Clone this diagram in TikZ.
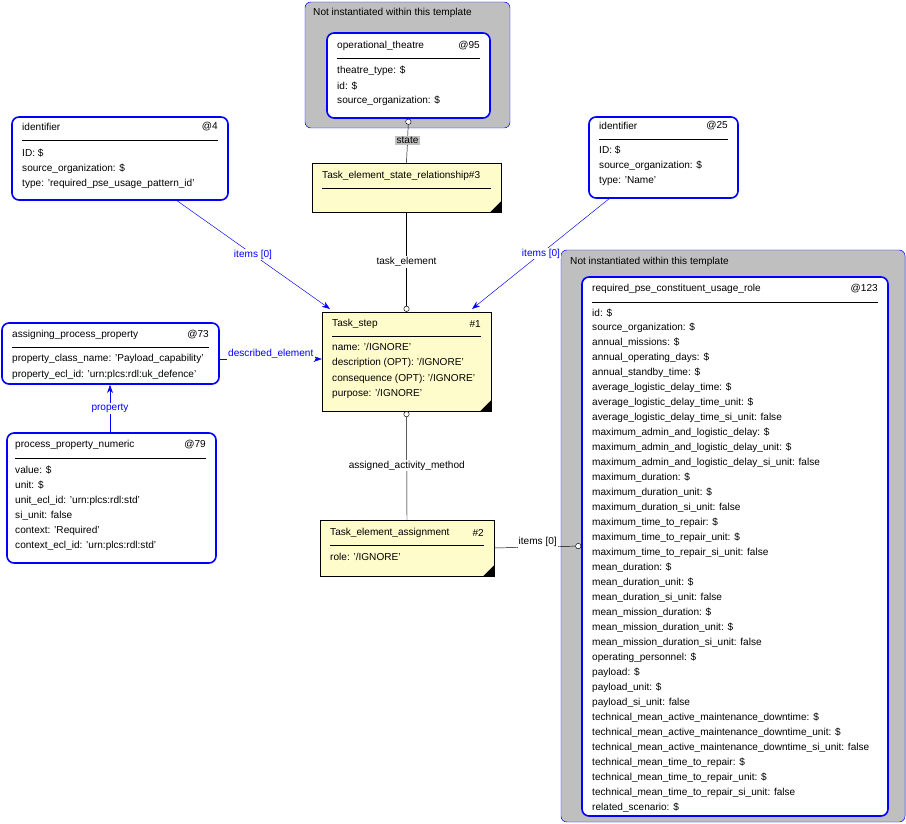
\documentclass[tikz,border=0pt]{standalone}
\usepackage{fontspec}
\setmainfont{Liberation Sans}
\usetikzlibrary{arrows.meta, positioning, calc, fit}

\begin{document}
\begin{tikzpicture}[
        x=0.03cm, y=-0.03cm,
        every node/.style={font=\fontsize{8.6}{10}\selectfont, inner sep=0pt},
        grp/.style={draw=blue, fill=black!25, rounded corners=5pt, inner sep=0pt},
        ent/.style={draw=blue, line width=1.4pt, fill=white, rounded corners=6pt, inner sep=0pt},
        rel/.style={draw=black, fill=yellow!20, inner sep=0pt},
        txt/.style={anchor=west},
        lbl/.style={fill=white, inner sep=1pt},
        link/.style={-{Stealth[length=7pt,width=5pt]}, blue},
        ring/.style={{Circle[open,fill=white,length=5pt]}-}
    ]
    \useasboundingbox (0,0) rectangle (906,824);

    % corner folds for the yellow boxes
    \newcommand{\fold}[1]{\fill (#1.south east) -- ++(-11,0) -- ++(11,-11) -- cycle;}
    \newcommand{\hdr}[5]{% name, x1, x2, y, title / id
        \node[txt] at (#2+10,#4) {#5};
        \draw (#2+10,#4+12) -- (#3-10,#4+12);}

    % Top container
    \node[grp, fit={(305,2)(510,128)}] (topgrp) {};
    \node[txt] at (313,13) {Not instantiated within this template};
    \node[ent, fit={(327,33)(490,118)}] (theatre) {};
    \node[txt] at (337,46) {operational\_theatre};
    \node[anchor=east] at (480,46) {@95};
    \draw (337,58) -- (480,58);
    \foreach \t [count=\i from 0] in {theatre\_type: \$, id: \$, source\_organization: \$}
        \node[txt] at (337,71+15*\i) {\t};

    % Task_element_state_relationship
    \node[rel, fit={(312,163)(501,212)}] (tesr) {};
    \fold{tesr}
    \node[txt] at (322,176) {Task\_element\_state\_relationship\#3};
    \draw (322,188) -- (491,188);

    % identifier @4
    \node[ent, fit={(12,117)(228,200)}] (ident4) {};
    \node[txt] at (22,127) {identifier};
    \node[anchor=east] at (218,127) {@4};
    \draw (22,140) -- (218,140);
    \foreach \t [count=\i from 0] in {ID: \$, source\_organization: \$, type: 'required\_pse\_usage\_pattern\_id'}
        \node[txt] at (22,153+15.5*\i) {\t};

    % identifier @25
    \node[ent, fit={(589,117)(738,198)}] (ident25) {};
    \node[txt] at (599,126) {identifier};
    \node[anchor=east] at (728,126) {@25};
    \draw (599,139) -- (728,139);
    \foreach \t [count=\i from 0] in {ID: \$, source\_organization: \$, type: 'Name'}
        \node[txt] at (599,150+15.5*\i) {\t};

    % Task_step
    \node[rel, fit={(322,312)(491,411)}] (step) {};
    \fold{step}
    \node[txt] at (332,324) {Task\_step};
    \node[anchor=east] at (481,324) {\#1};
    \draw (332,336) -- (481,336);
    \foreach \t [count=\i from 0] in {name: '/IGNORE', description (OPT): '/IGNORE', consequence (OPT): '/IGNORE', purpose: '/IGNORE'}
        \node[txt] at (332,347+15.7*\i) {\t};

    % assigning_process_property
    \node[ent, fit={(2,323)(219,384)}] (app) {};
    \node[txt] at (12,335) {assigning\_process\_property};
    \node[anchor=east] at (209,335) {@73};
    \draw (12,347) -- (209,347);
    \foreach \t [count=\i from 0] in {property\_class\_name: 'Payload\_capability', property\_ecl\_id: 'urn:plcs:rdl:uk\_defence'}
        \node[txt] at (12,359+16*\i) {\t};

    % process_property_numeric
    \node[ent, fit={(7,433)(216,563)}] (ppn) {};
    \node[txt] at (15,445) {process\_property\_numeric};
    \node[anchor=east] at (206,445) {@79};
    \draw (15,458) -- (206,458);
    \foreach \t [count=\i from 0] in {value: \$, unit: \$, unit\_ecl\_id: 'urn:plcs:rdl:std', si\_unit: false, context: 'Required', context\_ecl\_id: 'urn:plcs:rdl:std'}
        \node[txt] at (15,470+15.2*\i) {\t};

    % Task_element_assignment
    \node[rel, fit={(320,520)(494,576)}] (tea) {};
    \fold{tea}
    \node[txt] at (330,533) {Task\_element\_assignment};
    \node[anchor=east] at (484,533) {\#2};
    \draw (330,545) -- (484,545);
    \node[txt] at (330,557) {role: '/IGNORE'};

    % Right container
    \node[grp, fit={(561,250)(905,822)}] (rgrp) {};
    \node[txt] at (570,262) {Not instantiated within this template};
    \node[ent, fit={(582,277)(888,816)}] (role) {};
    \node[txt] at (592,289) {required\_pse\_constituent\_usage\_role};
    \node[anchor=east] at (878,289) {@123};
    \draw (592,302) -- (878,302);
    \foreach \t [count=\i from 0] in {id: \$, source\_organization: \$, annual\_missions: \$,
        annual\_operating\_days: \$, annual\_standby\_time: \$, average\_logistic\_delay\_time: \$,
        average\_logistic\_delay\_time\_unit: \$, average\_logistic\_delay\_time\_si\_unit: false,
        maximum\_admin\_and\_logistic\_delay: \$, maximum\_admin\_and\_logistic\_delay\_unit: \$,
        maximum\_admin\_and\_logistic\_delay\_si\_unit: false, maximum\_duration: \$,
        maximum\_duration\_unit: \$, maximum\_duration\_si\_unit: false, maximum\_time\_to\_repair: \$,
        maximum\_time\_to\_repair\_unit: \$, maximum\_time\_to\_repair\_si\_unit: false,
        mean\_duration: \$, mean\_duration\_unit: \$, mean\_duration\_si\_unit: false,
        mean\_mission\_duration: \$, mean\_mission\_duration\_unit: \$,
        mean\_mission\_duration\_si\_unit: false, operating\_personnel: \$, payload: \$,
        payload\_unit: \$, payload\_si\_unit: false,
        technical\_mean\_active\_maintenance\_downtime: \$,
        technical\_mean\_active\_maintenance\_downtime\_unit: \$,
        technical\_mean\_active\_maintenance\_downtime\_si\_unit: false,
        technical\_mean\_time\_to\_repair: \$, technical\_mean\_time\_to\_repair\_unit: \$,
        technical\_mean\_time\_to\_repair\_si\_unit: false, related\_scenario: \$}
        \node[txt] at (592,313+15*\i) {\t};

    % Connectors
    \draw[ring] (theatre.south) -- (tesr.north) node[midway, lbl, fill=black!25] {state};
    \draw[ring] (step.north) -- (tesr.south) node[midway, lbl] {task\_element};
    \draw[ring] (step.south) -- (tea.north) node[midway, lbl] {assigned\_activity\_method};
    \draw[ring] (role.west |- 0,546) coordinate (rin) -- (tea.east |- 0,548)
        node[midway, lbl, above=-1pt] {items [0]};
    \coordinate (s4) at (176,200);
    \coordinate (t4) at (330,309);
    \draw[link] (s4) -- (t4) node[midway, lbl] {items [0]};
    \coordinate (s25) at (610,198);
    \coordinate (t25) at (472,309);
    \draw[link] (s25) -- (t25) node[midway, lbl] {items [0]};
    \draw[link] (app.east |- 0,359) -- (step.west |- 0,359)
        node[midway, lbl, above=-1pt] {described\_element};
    \draw[link] (ppn.north -| 110,0) -- (app.south -| 110,0) node[midway, lbl] {property};
\end{tikzpicture}
\end{document}
